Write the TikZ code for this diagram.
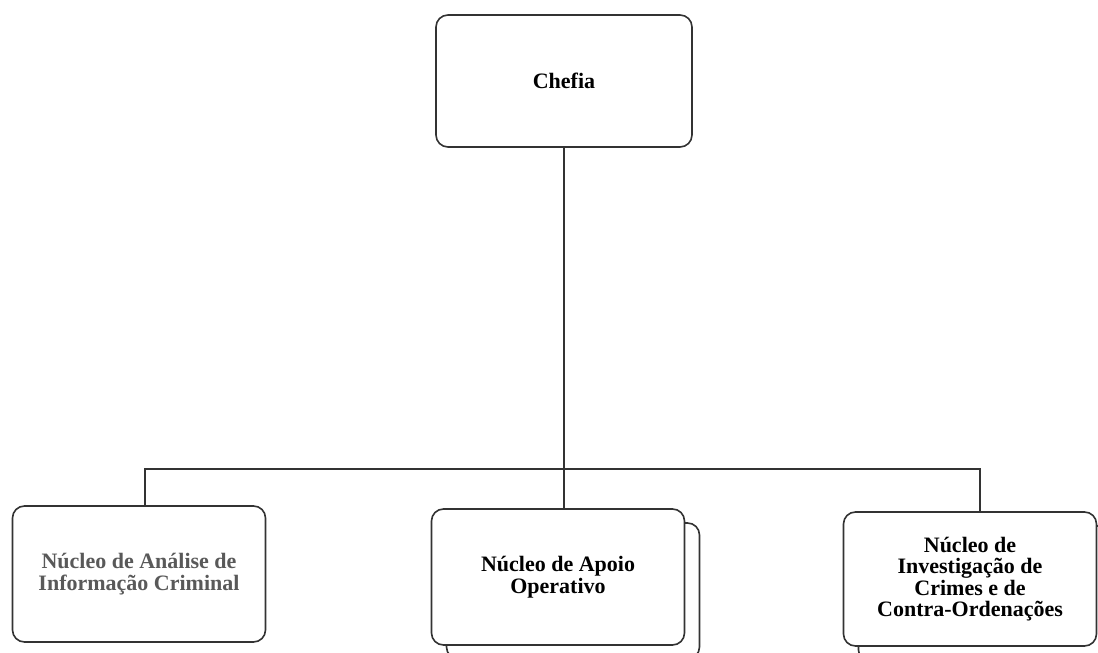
\documentclass[tikz,border=0pt]{standalone}
\usepackage{fontspec}
\setmainfont{Liberation Serif}
\usetikzlibrary{positioning}

\tikzset{
  unit/.style={draw=black!80, line width=0.8pt, rounded corners=6pt, fill=white,
    minimum width=126.5pt, minimum height=68pt, align=center,
    font=\fontsize{11}{10.7}\selectfont\bfseries},
  link/.style={draw=black!80, line width=0.7pt}
}

\begin{document}
\begin{tikzpicture}[x=0.5pt,y=-0.5pt]

\useasboundingbox (0,0) rectangle (1098,653);

% topo
\node [unit, minimum width=128pt, minimum height=66pt] (chefia) at (564,81) {Chefia};

% caixas de tras
\node [unit] (apoiob) at (573,591) {};
\node [unit] (investigb) at (985,594) {};

% nucleos
\node [unit, text=black!65] (analise) at (139,574) {N\'ucleo de An\'alise de\\Informa\c{c}\~ao Criminal};
\node [unit] (apoio) at (558,577) {N\'ucleo de Apoio\\Operativo};
\node [unit, minimum height=67pt] (investig) at (970,579) {N\'ucleo de\\Investiga\c{c}\~ao de\\Crimes e de\\Contra-Ordena\c{c}\~oes};

\coordinate (bus) at (564,469);

\draw [link] (chefia.south) -- (chefia.south |- apoio.north);
\draw [link] ([xshift=3pt]analise.north) |- (bus) -| ([xshift=5pt]investig.north);

\end{tikzpicture}
\end{document}
